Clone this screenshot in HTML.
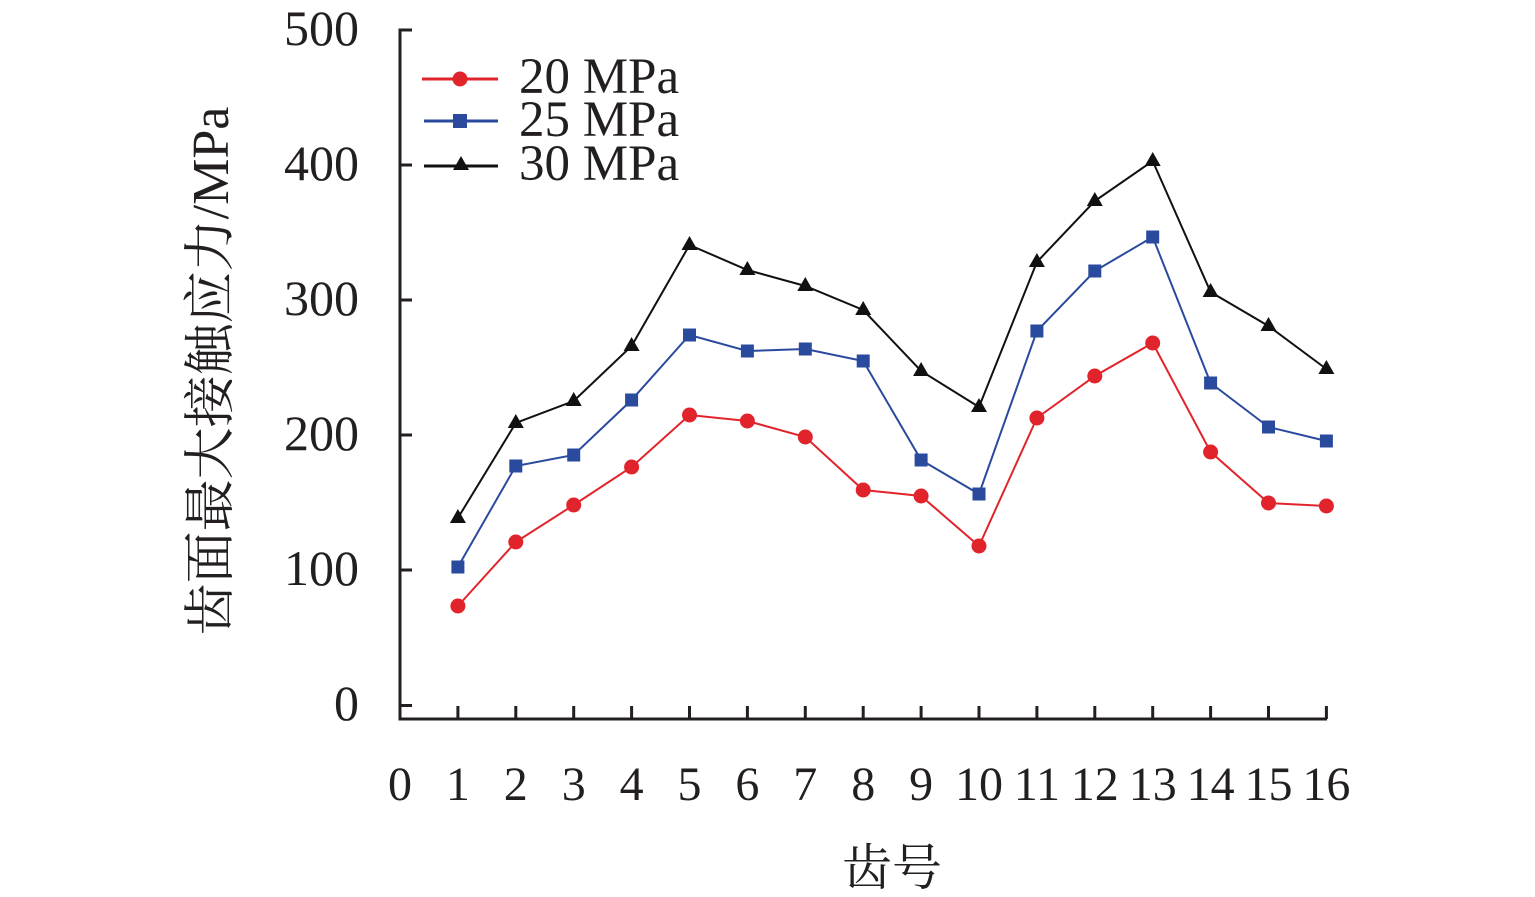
<!DOCTYPE html>
<html><head><meta charset="utf-8"><style>html,body{margin:0;padding:0;background:#fff}</style></head>
<body>
<svg width="1535" height="892" viewBox="0 0 1535 892" xmlns="http://www.w3.org/2000/svg" font-family="'Liberation Serif','Noto Serif CJK SC',serif">
<g stroke="#231f20" stroke-width="3" fill="none">
<polyline points="412,30 400,30 400,719 1327,719"/>
<line x1="400" y1="165" x2="412" y2="165"/>
<line x1="400" y1="300" x2="412" y2="300"/>
<line x1="400" y1="435" x2="412" y2="435"/>
<line x1="400" y1="570" x2="412" y2="570"/>
<line x1="400" y1="705.5" x2="412" y2="705.5"/>
</g>
<g stroke="#231f20" stroke-width="3" id="xt"></g>
<g font-size="50" fill="#231f20" text-anchor="end">
<text x="359" y="45">500</text><text x="359" y="180">400</text><text x="359" y="315">300</text><text x="359" y="450">200</text><text x="359" y="585">100</text><text x="359" y="720">0</text>
</g>
<g font-size="48" fill="#231f20" text-anchor="middle" id="xl"></g>
<text x="0" y="0" font-size="52" fill="#231f20" text-anchor="middle" transform="translate(228,371) rotate(-90)">齿面最大接触应力/MPa</text>
<text x="892" y="885" font-size="50" fill="#231f20" text-anchor="middle">齿号</text>
<g id="series"></g>
<line x1="422" y1="79" x2="498" y2="79" stroke="#e1242b" stroke-width="3"/><circle cx="460" cy="79" r="7.5" fill="#e1242b"/>
<line x1="424" y1="121" x2="498" y2="121" stroke="#2a4a9e" stroke-width="3"/><rect x="453" y="114" width="14" height="14" fill="#2a4a9e"/>
<line x1="424" y1="166" x2="498" y2="166" stroke="#111" stroke-width="3"/><polygon points="461,156 469,170 453,170" fill="#111"/>
<g font-size="51" fill="#231f20"><text x="519" y="93">20 MPa</text><text x="519" y="136">25 MPa</text><text x="519" y="180">30 MPa</text></g>
</svg>
<script>
var ns="http://www.w3.org/2000/svg";
function X(n){return 400+57.9*n;}
var xt=document.getElementById('xt'),xl=document.getElementById('xl');
for(var i=0;i<=16;i++){
 if(i>0){var l=document.createElementNS(ns,'line');l.setAttribute('x1',X(i));l.setAttribute('x2',X(i));l.setAttribute('y1',706);l.setAttribute('y2',719);xt.appendChild(l);}
 var t=document.createElementNS(ns,'text');t.setAttribute('x',X(i));t.setAttribute('y',800);t.textContent=i;xl.appendChild(t);
}
var d={
r:[606,542,505,467,415,421,437,490,496,546,418,376,343,452,503,506],
b:[567,466,455,400,335,351,349,361,460,494,331,271,237,383,427,441],
k:[518,423,401,346,245,270,286,310,371,407,262,201,161,292,326,369]};
var col={r:'#e1242b',b:'#2a4a9e',k:'#111'};
var g=document.getElementById('series');
['k','b','r'].forEach(function(s){
 var pts=d[s].map(function(y,i){return X(i+1)+','+y;}).join(' ');
 var p=document.createElementNS(ns,'polyline');p.setAttribute('points',pts);p.setAttribute('fill','none');p.setAttribute('stroke',col[s]);p.setAttribute('stroke-width',2);g.appendChild(p);
 d[s].forEach(function(y,i){var x=X(i+1),m;
  if(s=='r'){m=document.createElementNS(ns,'circle');m.setAttribute('cx',x);m.setAttribute('cy',y);m.setAttribute('r',7.5);}
  else if(s=='b'){m=document.createElementNS(ns,'rect');m.setAttribute('x',x-6.5);m.setAttribute('y',y-6.5);m.setAttribute('width',13);m.setAttribute('height',13);}
  else {m=document.createElementNS(ns,'polygon');m.setAttribute('points',x+','+(y-9)+' '+(x+8)+','+(y+5)+' '+(x-8)+','+(y+5));}
  m.setAttribute('fill',col[s]);g.appendChild(m);});
});
</script>
</body></html>
